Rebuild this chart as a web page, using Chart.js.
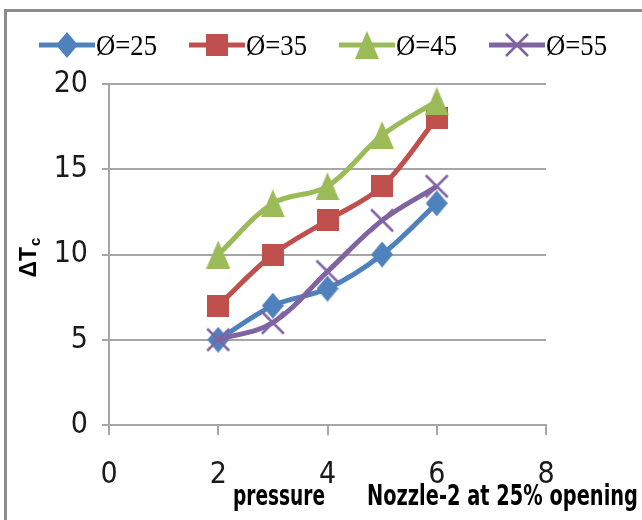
<!DOCTYPE html>
<html>
<head>
<meta charset="utf-8">
<script src="https://cdn.jsdelivr.net/npm/chart.js@4"></script>
<style>
  html, body { margin: 0; padding: 0; background: #fff; }
  #wrap { width: 642px; height: 520px; }
</style>
</head>
<body>
<div id="wrap"><canvas id="grafico" width="642" height="520"></canvas></div>
<script>
// pressure values on the x axis and ΔTc for each nozzle diameter
var pressao = [2, 3, 4, 5, 6];
var phi25 = [5, 7, 8, 10, 13];
var phi35 = [7, 10, 12, 14, 18];
var phi45 = [10, 13, 14, 17, 19];
var phi55 = [5, 6, 9, 12, 14];
var rotulos = ['Ø=25', 'Ø=35', 'Ø=45', 'Ø=55'];
var cores = ['#4F81BD', '#C0504D', '#9BBB59', '#8064A2'];
var tipos = ['diamond', 'square', 'triangle', 'cross'];

var cinza = '#a6a6a6';
var fonteEixo = '"Liberation Sans Narrow", "DejaVu Sans Condensed", sans-serif';

// marker images (Excel style), used both on the chart and in the legend
function marcador(tipo, cor) {
    var c = document.createElement('canvas');
    var g;
    if (tipo == 'diamond') {
        c.width = 22; c.height = 26; g = c.getContext('2d');
        g.fillStyle = cor;
        g.beginPath(); g.moveTo(11, 0); g.lineTo(22, 13); g.lineTo(11, 26); g.lineTo(0, 13); g.closePath(); g.fill();
    } else if (tipo == 'square') {
        c.width = 22; c.height = 22; g = c.getContext('2d');
        g.fillStyle = cor; g.fillRect(0, 0, 22, 22);
    } else if (tipo == 'triangle') {
        c.width = 24; c.height = 28; g = c.getContext('2d');
        g.fillStyle = cor;
        g.beginPath(); g.moveTo(12, 0); g.lineTo(24, 28); g.lineTo(0, 28); g.closePath(); g.fill();
    } else {
        c.width = 26; c.height = 26; g = c.getContext('2d');
        g.strokeStyle = cor; g.lineWidth = 2.5;
        g.beginPath(); g.moveTo(2, 2); g.lineTo(24, 24); g.moveTo(24, 2); g.lineTo(2, 24); g.stroke();
    }
    return c;
}

var valores = [phi25, phi35, phi45, phi55];
var marcadores = tipos.map(function (t, i) { return marcador(t, cores[i]); });

var datasets = valores.map(function (serie, i) {
    return {
        label: rotulos[i],
        data: pressao.map(function (p, k) { return { x: p, y: serie[k] }; }),
        borderColor: cores[i],
        backgroundColor: cores[i],
        borderWidth: 5,
        tension: 0.35,
        pointStyle: marcadores[i],
        pointRadius: 12,
        order: 3 - i
    };
});

// frame, legend and axis titles
var extras = {
    id: 'extras',
    beforeDraw: function (chart) {
        var ctx = chart.ctx;
        ctx.save();
        ctx.fillStyle = '#fff';
        ctx.fillRect(0, 0, chart.width, chart.height);
        ctx.restore();
    },
    afterDraw: function (chart) {
        var ctx = chart.ctx;
        ctx.save();

        // frame (top and left edges)
        ctx.fillStyle = '#8c8c8c';
        ctx.fillRect(4, 9, chart.width - 4, 3);
        ctx.fillRect(4, 9, 3, chart.height - 9);

        // legend
        var inicio = [39, 189, 339, 489];
        var yl = 45;
        for (var i = 0; i < rotulos.length; i++) {
            var x0 = inicio[i];
            ctx.strokeStyle = cores[i];
            ctx.lineWidth = 5;
            ctx.beginPath(); ctx.moveTo(x0, yl); ctx.lineTo(x0 + 56, yl); ctx.stroke();
            var m = marcadores[i];
            ctx.drawImage(m, x0 + 28 - m.width / 2, yl - m.height / 2);

            ctx.font = '30px "Liberation Serif", "DejaVu Serif", serif';
            ctx.fillStyle = '#000';
            ctx.textBaseline = 'alphabetic';
            var w = ctx.measureText(rotulos[i]).width;
            ctx.save();
            ctx.translate(x0 + 57, 55);
            ctx.scale(61 / w, 1);
            ctx.fillText(rotulos[i], 0, 0);
            ctx.restore();
        }

        // y axis title: ΔTc
        ctx.save();
        ctx.translate(36, 258);
        ctx.rotate(-Math.PI / 2);
        ctx.fillStyle = '#000';
        ctx.textBaseline = 'alphabetic';
        ctx.font = 'bold 23px "Liberation Sans", sans-serif';
        var wt = ctx.measureText('ΔT').width;
        ctx.font = 'bold 15px "Liberation Sans", sans-serif';
        var wc = ctx.measureText('c').width;
        var xs = -(wt + wc) / 2;
        ctx.font = 'bold 23px "Liberation Sans", sans-serif';
        ctx.fillText('ΔT', xs, 0);
        ctx.font = 'bold 15px "Liberation Sans", sans-serif';
        ctx.fillText('c', xs + wt + 1, 4);
        ctx.restore();

        // x axis titles
        ctx.fillStyle = '#000';
        ctx.textBaseline = 'alphabetic';
        ctx.font = 'bold 28px ' + fonteEixo;
        var t1 = 'pressure', t2 = 'Nozzle-2 at 25% opening';
        var w1 = ctx.measureText(t1).width, w2 = ctx.measureText(t2).width;
        ctx.save(); ctx.translate(233, 505); ctx.scale(92 / w1, 1); ctx.fillText(t1, 0, 0); ctx.restore();
        ctx.save(); ctx.translate(367, 505); ctx.scale(271 / w2, 1); ctx.fillText(t2, 0, 0); ctx.restore();

        ctx.restore();
    }
};

var ctx = document.getElementById('grafico').getContext('2d');

var opcoes = {
    responsive: false,
    animation: false,
    layout: { padding: { left: 49, right: 96, top: 84, bottom: 0 } },
    plugins: {
        legend: { display: false },
        title: { display: false },
        tooltip: { enabled: false }
    },
    scales: {
        x: {
            type: 'linear',
            min: 0,
            max: 8,
            ticks: { stepSize: 2, padding: 22, color: '#1a1a1a', font: { family: fonteEixo, size: 30 } },
            grid: { drawOnChartArea: false, drawTicks: true, tickLength: 10, color: cinza, lineWidth: 2 },
            border: { display: true, color: cinza, width: 2 },
            afterFit: function (s) { s.height = 95; }
        },
        y: {
            min: 0,
            max: 20,
            ticks: { stepSize: 5, padding: 14, color: '#1a1a1a', font: { family: fonteEixo, size: 30 } },
            grid: { color: cinza, lineWidth: 2, tickLength: 7 },
            border: { display: true, color: cinza, width: 2 },
            afterFit: function (s) { s.width = 60; }
        }
    }
};

var grafico = new Chart(ctx, {
    type: 'line',
    data: { datasets: datasets },
    options: opcoes,
    plugins: [extras]
});
</script>
</body>
</html>
